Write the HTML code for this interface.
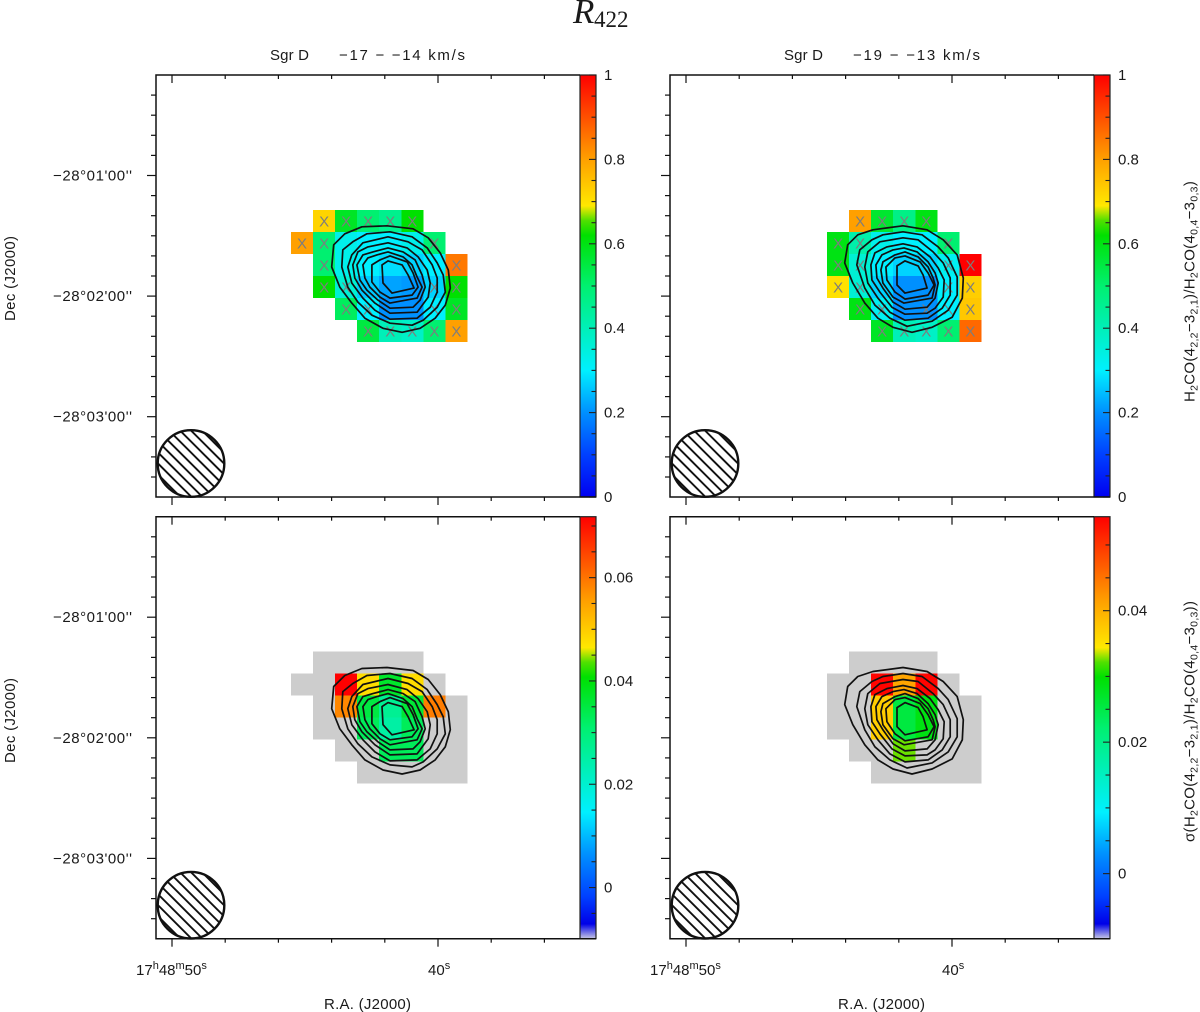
<!DOCTYPE html>
<html>
<head>
<meta charset="utf-8">
<title>R422 line ratio maps of Sgr D</title>
<style>
html,body{margin:0;padding:0;background:#fff;}
svg{display:block;}
text{font-family:"Liberation Sans",sans-serif;fill:#1a1a1a;font-size:15px;}
.serif{font-family:"Liberation Serif",serif;}
</style>
</head>
<body>
<svg id="chart" xmlns="http://www.w3.org/2000/svg" width="1200" height="1012" viewBox="0 0 1200 1012">
  <defs id="defs"></defs>
  <rect x="0" y="0" width="1200" height="1012" fill="#fff"/>
  <g id="panels"></g>

  <text class="serif" x="573" y="23" style="font-size:35px;font-style:italic">R<tspan x="594" y="27" style="font-size:23px;font-style:normal">422</tspan></text>

  <text x="270" y="60" textLength="39">Sgr D</text>
  <text x="339" y="60" textLength="126">−17 − −14 km/s</text>
  <text x="784" y="60" textLength="39">Sgr D</text>
  <text x="853" y="60" textLength="127">−19 − −13 km/s</text>

  <text transform="translate(15,321) rotate(-90)" textLength="85">Dec (J2000)</text>
  <text transform="translate(15,763) rotate(-90)" textLength="85">Dec (J2000)</text>

  <text x="324" y="1009" textLength="87">R.A. (J2000)</text>
  <text x="838" y="1009" textLength="87">R.A. (J2000)</text>

  <text x="136" y="975">17<tspan y="969" style="font-size:11px">h</tspan><tspan y="975">48</tspan><tspan y="969" style="font-size:11px">m</tspan><tspan y="975">50</tspan><tspan y="969" style="font-size:11px">s</tspan></text>
  <text x="428" y="975">40<tspan y="969" style="font-size:11px">s</tspan></text>
  <text x="650" y="975">17<tspan y="969" style="font-size:11px">h</tspan><tspan y="975">48</tspan><tspan y="969" style="font-size:11px">m</tspan><tspan y="975">50</tspan><tspan y="969" style="font-size:11px">s</tspan></text>
  <text x="942" y="975">40<tspan y="969" style="font-size:11px">s</tspan></text>

  <text transform="translate(1194.5,402) rotate(-90)" style="letter-spacing:0.3px">H<tspan dy="3" style="font-size:10.5px">2</tspan><tspan dy="-3">CO(4</tspan><tspan dy="3" style="font-size:10.5px">2,2</tspan><tspan dy="-3">−3</tspan><tspan dy="3" style="font-size:10.5px">2,1</tspan><tspan dy="-3">)/H</tspan><tspan dy="3" style="font-size:10.5px">2</tspan><tspan dy="-3">CO(4</tspan><tspan dy="3" style="font-size:10.5px">0,4</tspan><tspan dy="-3">−3</tspan><tspan dy="3" style="font-size:10.5px">0,3</tspan><tspan dy="-3">)</tspan></text>
  <text transform="translate(1194.5,842) rotate(-90)" style="letter-spacing:0.3px">σ(H<tspan dy="3" style="font-size:10.5px">2</tspan><tspan dy="-3">CO(4</tspan><tspan dy="3" style="font-size:10.5px">2,2</tspan><tspan dy="-3">−3</tspan><tspan dy="3" style="font-size:10.5px">2,1</tspan><tspan dy="-3">)/H</tspan><tspan dy="3" style="font-size:10.5px">2</tspan><tspan dy="-3">CO(4</tspan><tspan dy="3" style="font-size:10.5px">0,4</tspan><tspan dy="-3">−3</tspan><tspan dy="3" style="font-size:10.5px">0,3</tspan><tspan dy="-3">))</tspan></text>
</svg>
<script>
// ---------- Data: heatmap values on the shared 8 x 6 map grid (rows run north to south) ----------
var ratioLeft = [
  [null, .72, .58, .50, .46, .62, null, null],
  [.80, .50, .33, .30, .30, .33, .50, null],
  [null, .50, .33, .30, .28, .27, .30, .85],
  [null, .62, .36, .26, .22, .21, .27, .62],
  [null, null, .52, .30, .20, .20, .30, .58],
  [null, null, null, .55, .40, .38, .50, .80]
];
var ratioRight = [
  [null, null, .80, .57, .47, .60, null, null],
  [null, .60, .42, .33, .30, .30, .50, null],
  [null, .60, .36, .30, .27, .27, .32, 1.0],
  [null, .70, .36, .27, .20, .20, .30, .73],
  [null, null, .60, .32, .20, .20, .30, .74],
  [null, null, null, .58, .40, .38, .50, .87]
];
var sigmaLeft = [
  [null, null, null, null, null, null, null, null],
  [null, null, .072, .048, .037, .048, null, null],
  [null, null, .058, .035, .027, .036, .059, null],
  [null, null, null, .033, .025, .033, null, null],
  [null, null, null, null, .033, .033, null, null],
  [null, null, null, null, null, null, null, null]
];
var sigmaRight = [
  [null, null, null, null, null, null, null, null],
  [null, null, null, .054, .041, .054, null, null],
  [null, null, null, .037, .0255, .0287, null, null],
  [null, null, null, .037, .0255, .0287, null, null],
  [null, null, null, null, .0325, null, null, null],
  [null, null, null, null, null, null, null, null]
];
// Grid cells whose ratio is flagged (column, row)
var flaggedLeft = [[1,0],[2,0],[3,0],[4,0],[5,0],[0,1],[1,1],[6,1],[1,2],[7,2],[1,3],[2,3],[6,3],[7,3],[2,4],[3,4],[6,4],[7,4],[3,5],[4,5],[5,5],[6,5],[7,5]];
var flaggedRight = [[2,0],[3,0],[4,0],[5,0],[1,1],[2,1],[6,1],[1,2],[2,2],[6,2],[7,2],[1,3],[2,3],[6,3],[7,3],[2,4],[3,4],[5,4],[6,4],[7,4],[3,5],[4,5],[5,5],[6,5],[7,5]];

// Contours: [arcsec west, arcsec south] of the map reference position
var contoursLeft = [
  [[-13,-26.5],[-.5,-27],[12.5,-25.5],[20,-21],[26,-13.5],[30,-5],[31,4],[28.5,12.5],[23.5,19],[16,24],[7,26],[-2.5,24],[-11.5,19],[-18,11.5],[-24,3.5],[-28,-6.5],[-27,-17.5],[-21.5,-23]],
  [[-10.5,-23],[1,-24],[12,-21.5],[19.5,-16],[24.5,-8.5],[27.5,-2.5],[28.5,6],[24.5,13.5],[17.5,20],[12,22.5],[1,21.5],[-8,17.5],[-15,11],[-20,3.5],[-23,-6.5],[-22.5,-15],[-17.5,-19]],
  [[0,-21.5],[10,-19],[17,-15],[22,-7.5],[24.5,-1],[24.5,6],[21,13.5],[14.5,19],[1,19.5],[-6.5,15],[-12.5,9],[-18,1.5],[-20,-6.5],[-18,-12.5],[-12.5,-18.5]],
  [[0,-18.5],[9.5,-16],[15,-11.5],[19.5,-5],[21,1.5],[20,8.5],[14.5,16],[1,16.5],[-6.5,11.5],[-13,5],[-16.5,-1],[-17.5,-7.5],[-15,-14],[-10,-16.5]],
  [[0,-16],[7.5,-14],[13.5,-10],[17,-2.5],[18.5,3.5],[16,10],[12.5,13.5],[1,14],[-5,10],[-10.5,5],[-14,0],[-15.5,-7.5],[-12.5,-12.5],[-7.5,-14]],
  [[0,-14],[7.5,-11.5],[12,-7.5],[14.5,-1.5],[17,3.5],[14.5,9],[1,11.5],[-4,8.5],[-9,3.5],[-11.5,-1],[-12.5,-7.5],[-10,-11],[-5.5,-12.5]],
  [[1,-12],[9.5,-9],[12.5,-3.5],[15,3.5],[12,7.5],[1,9],[-4,6],[-8,1],[-8,-7.5],[-4,-10]],
  [[0,-9.5],[7,-7.5],[10,-2.5],[13,4],[2,6.5],[-2.5,1.5],[-3,-7.5]]
];
var contoursRight = [
  [[-14.5,-25],[.5,-27],[12.5,-25],[20.5,-20],[27.5,-12.5],[30.5,-1],[30,9],[25,18.5],[15,23.5],[5,26],[-4.5,23.5],[-12,19],[-18.5,11.5],[-24.5,1.5],[-28.5,-8.5],[-27,-17.5],[-22,-22.5]],
  [[.5,-24],[10,-22.5],[18,-16.5],[23,-11],[27.5,-1.5],[27.5,7.5],[23,15],[15,20.5],[2.5,23],[-6,19],[-13.5,12.5],[-18.5,4],[-22.5,-7.5],[-21,-15],[-15,-20],[-9.5,-22.5]],
  [[.5,-21],[8,-20],[15.5,-14],[20.5,-8.5],[24,-1],[24,7.5],[20,14],[13,19],[1.5,20],[-6,16],[-12,9],[-17,1.5],[-18.5,-6.5],[-17,-14],[-11,-19]],
  [[.5,-18],[7.5,-16.5],[14,-11.5],[18,-6],[21,0],[20.5,8.5],[16.5,14],[12.5,16.5],[1.5,17],[-5,13.5],[-11,6],[-15,0],[-15.5,-7.5],[-13.5,-13.5],[-7.5,-16.5]],
  [[1,-16],[7.5,-14],[13,-9],[16.5,-3.5],[18,1.5],[16.5,9],[12.5,13.5],[1.5,14.5],[-4.5,11],[-9.5,4],[-12.5,-1],[-13,-7.5],[-10,-12.5],[-4.5,-15]],
  [[1.5,-14],[8,-11.5],[13,-6.5],[15.5,-1],[16.5,2.5],[15,9],[1,11.5],[-4.5,8.5],[-9.5,1.5],[-10.5,-5],[-9.5,-9],[-3.5,-12.5]],
  [[1.5,-12],[9,-9],[13,-3.5],[16,2.5],[13,7.5],[1.5,9.5],[-3.5,6],[-7.5,0],[-8,-6.5],[-3.5,-11]],
  [[1.5,-9.5],[8,-7],[10.5,-2.5],[12.5,4],[1.5,6.5],[-2.5,2.5],[-2.5,-7]]
];

// Axis tick values
var raTicksMajor = [50, 40];
var raTicksMinor = [48, 46, 44, 42, 38, 36];
var decTickValues = [60, 120, 180];
var decTickLabels = ["−28°01'00''", "−28°02'00''", "−28°03'00''"];
var decTicksMinor = [20, 30, 40, 50, 70, 80, 90, 100, 110, 130, 140, 150, 160, 170, 190, 200, 210];

// Colorbar ranges and ticks
var ratioRange = [0, 1];
var sigmaLeftRange = [-0.0099, 0.0718];
var sigmaRightRange = [-0.0099, 0.0543];
var ratioBarLabels = ["0", "0.2", "0.4", "0.6", "0.8", "1"];
var ratioBarMajor = [0, .2, .4, .6, .8, 1];
var ratioBarMinor = [.05, .1, .15, .25, .3, .35, .45, .5, .55, .65, .7, .75, .85, .9, .95];
var sigmaLeftLabels = ["0", "0.02", "0.04", "0.06"];
var sigmaLeftMajor = [0, .02, .04, .06];
var sigmaLeftMinor = [-.005, .005, .01, .015, .025, .03, .035, .045, .05, .055, .065, .07];
var sigmaRightLabels = ["0", "0.02", "0.04"];
var sigmaRightMajor = [0, .02, .04];
var sigmaRightMinor = [-.005, .005, .01, .015, .025, .03, .035, .045, .05];

var colorStops = [[0,'#0000f0'],[.1,'#0040ff'],[.2,'#0090ff'],[.3,'#00f0ff'],[.4,'#00f0b8'],[.5,'#00f070'],[.62,'#00e000'],[.655,'#50e000'],[.69,'#ffe800'],[.8,'#ffa000'],[.9,'#ff5000'],[1,'#ff0000']];

var SVGNS = 'http://www.w3.org/2000/svg';

function hexToRgb(h) {
  return [parseInt(h.substr(1,2),16), parseInt(h.substr(3,2),16), parseInt(h.substr(5,2),16)];
}
function colorAt(t) {
  t = Math.max(0, Math.min(1, t));
  for (var i = 1; i < colorStops.length; i++) {
    if (t <= colorStops[i][0]) {
      var a = colorStops[i-1], b = colorStops[i];
      var f = (t - a[0]) / (b[0] - a[0]);
      var ca = hexToRgb(a[1]), cb = hexToRgb(b[1]);
      return 'rgb(' + Math.round(ca[0]+(cb[0]-ca[0])*f) + ',' + Math.round(ca[1]+(cb[1]-ca[1])*f) + ',' + Math.round(ca[2]+(cb[2]-ca[2])*f) + ')';
    }
  }
  return colorStops[colorStops.length-1][1];
}
function make(tag, attrs, parent) {
  var el = document.createElementNS(SVGNS, tag);
  for (var k in attrs) el.setAttribute(k, attrs[k]);
  parent.appendChild(el);
  return el;
}

// Gradients for colorbars
var defs = document.getElementById('defs');
var gradRatio = make('linearGradient', {id:'grad-ratio', x1:0, y1:1, x2:0, y2:0}, defs);
colorStops.forEach(function (s) { make('stop', {offset:s[0], 'stop-color':s[1]}, gradRatio); });
var gradSigma = make('linearGradient', {id:'grad-sigma', x1:0, y1:1, x2:0, y2:0}, defs);
make('stop', {offset:0, 'stop-color':'#c8c8e4'}, gradSigma);
make('stop', {offset:.035, 'stop-color':'#0000e8'}, gradSigma);
colorStops.forEach(function (s) { if (s[0] >= .1) make('stop', {offset:s[0], 'stop-color':s[1]}, gradSigma); });
var clip = make('clipPath', {id:'beam-clip'}, defs);
make('circle', {cx:0, cy:0, r:33.3}, clip);

var panelsRoot = document.getElementById('panels');

function drawPanel(p) {
  // Axis functions
  function xRA(sec) { return 172 + (50 - sec) * 26.6 + p.dx; }
  function yDec(arcsec) { return 175.5 + (arcsec - 60) * 2.01 + p.dy; }
  function xCol(c) { return xRA(45.526 - c * 0.829); }
  function yRow(r) { return yDec(77.16 + r * 10.95); }
  function xOffset(w) { return xRA(41.88 - w / 13.24); }
  function yOffset(s) { return yDec(112 + s); }
  var top = 75 + p.dy, bottom = 497 + p.dy, left = 156 + p.dx;
  var barL = 580 + p.dx, barR = 596 + p.dx;
  function yBar(v) { return bottom - (v - p.range[0]) / (p.range[1] - p.range[0]) * (bottom - top); }

  var g = make('g', {}, panelsRoot);
  
  

  // Blanked / masked cells
  if (p.maskFrom) {
    p.maskFrom.forEach(function (row, r) {
      row.forEach(function (v, c) {
        if (v === null) return;
        var m = make('rect', {x:xCol(c), y:yRow(r), width:xCol(c+1)-xCol(c), height:yRow(r+1)-yRow(r), fill:'#cdcdcd', 'shape-rendering':'crispEdges'}, g);
        
        
      });
    });
  }
  // Heatmap cells
  p.values.forEach(function (row, r) {
    row.forEach(function (v, c) {
      if (v === null) return;
      var t = (v - p.range[0]) / (p.range[1] - p.range[0]);
      var cell = make('rect', {x:xCol(c), y:yRow(r), width:xCol(c+1)-xCol(c), height:yRow(r+1)-yRow(r), fill:colorAt(t), 'shape-rendering':'crispEdges'}, g);
      
      
    });
  });
  // Flag marks
  (p.flags || []).forEach(function (f) {
    var x = make('text', {x:(xCol(f[0])+xCol(f[0]+1))/2, y:(yRow(f[1])+yRow(f[1]+1))/2+5.5, 'text-anchor':'middle', style:'font-size:15px;fill:#7d7d7d'}, g);
    x.textContent = 'X';
    
    
  });
  // Contours
  p.contours.forEach(function (poly) {
    var pts = poly.map(function (q) { return xOffset(q[0]).toFixed(1) + ',' + yOffset(q[1]).toFixed(1); }).join(' ');
    var line = make('polygon', {points:pts, fill:'none', stroke:'#111', 'stroke-width':1.7, 'stroke-linejoin':'round'}, g);
    
    
  });
  // Beam
  var beam = make('g', {transform:'translate(' + (191 + p.dx) + ',' + (463.5 + p.dy) + ')'}, g);
  
  
  var hatch = make('g', {'clip-path':'url(#beam-clip)'}, beam);
  for (var i = -5; i <= 5; i++) {
    var off = i * 11;
    make('line', {x1:off-50, y1:-50, x2:off+50, y2:50, stroke:'#111', 'stroke-width':1.9}, hatch);
  }
  make('circle', {cx:0, cy:0, r:33.3, fill:'none', stroke:'#111', 'stroke-width':2.4}, beam);

  // Colorbar
  var bar = make('rect', {x:barL, y:top, width:barR-barL, height:bottom-top, fill:'url(#' + p.grad + ')', stroke:'#222', 'stroke-width':1.2}, g);
  
  
  p.barMinor.forEach(function (v) {
    make('line', {x1:barR-4.5, x2:barR, y1:yBar(v), y2:yBar(v), stroke:'#222', 'stroke-width':1.1}, g);
  });
  p.barMajor.forEach(function (v, i) {
    make('line', {x1:barR-7, x2:barR, y1:yBar(v), y2:yBar(v), stroke:'#222', 'stroke-width':1.1}, g);
    var t = make('text', {x:barR+8, y:yBar(v)+5}, g);
    t.textContent = p.barLabels[i];
    
    
  });

  // Frame
  var frame = make('path', {d:'M' + barL + ' ' + top + 'H' + left + 'V' + bottom + 'H' + barR, fill:'none', stroke:'#111', 'stroke-width':1.5}, g);
  
  

  // Ticks
  function xTick(sec, len) {
    var x = xRA(sec);
    make('line', {x1:x, x2:x, y1:top, y2:top+len, stroke:'#111', 'stroke-width':1.2}, g);
    make('line', {x1:x, x2:x, y1:bottom, y2:bottom+len, stroke:'#111', 'stroke-width':1.2}, g);
  }
  raTicksMajor.forEach(function (s) { xTick(s, 8); });
  raTicksMinor.forEach(function (s) { xTick(s, 4); });
  function yTick(a, len) {
    make('line', {x1:left-len, x2:left, y1:yDec(a), y2:yDec(a), stroke:'#111', 'stroke-width':1.2}, g);
  }
  decTicksMinor.forEach(function (a) { yTick(a, 5); });
  decTickValues.forEach(function (a, i) {
    yTick(a, 9);
    if (!p.decLabels) return;
    var t = make('text', {x:53, y:yDec(a)+5, textLength:79}, g);
    t.textContent = decTickLabels[i];
    
    
  });
}

drawPanel({name:'top-left', dx:0, dy:0, values:ratioLeft, range:ratioRange, flags:flaggedLeft, contours:contoursLeft, grad:'grad-ratio', barMajor:ratioBarMajor, barMinor:ratioBarMinor, barLabels:ratioBarLabels, decLabels:true});
drawPanel({name:'top-right', dx:514, dy:0, values:ratioRight, range:ratioRange, flags:flaggedRight, contours:contoursRight, grad:'grad-ratio', barMajor:ratioBarMajor, barMinor:ratioBarMinor, barLabels:ratioBarLabels, decLabels:false});
drawPanel({name:'bottom-left', dx:0, dy:441.7, values:sigmaLeft, maskFrom:ratioLeft, range:sigmaLeftRange, contours:contoursLeft, grad:'grad-sigma', barMajor:sigmaLeftMajor, barMinor:sigmaLeftMinor, barLabels:sigmaLeftLabels, decLabels:true});
drawPanel({name:'bottom-right', dx:514, dy:441.7, values:sigmaRight, maskFrom:ratioRight, range:sigmaRightRange, contours:contoursRight, grad:'grad-sigma', barMajor:sigmaRightMajor, barMinor:sigmaRightMinor, barLabels:sigmaRightLabels, decLabels:false});
</script>
</body>
</html>
